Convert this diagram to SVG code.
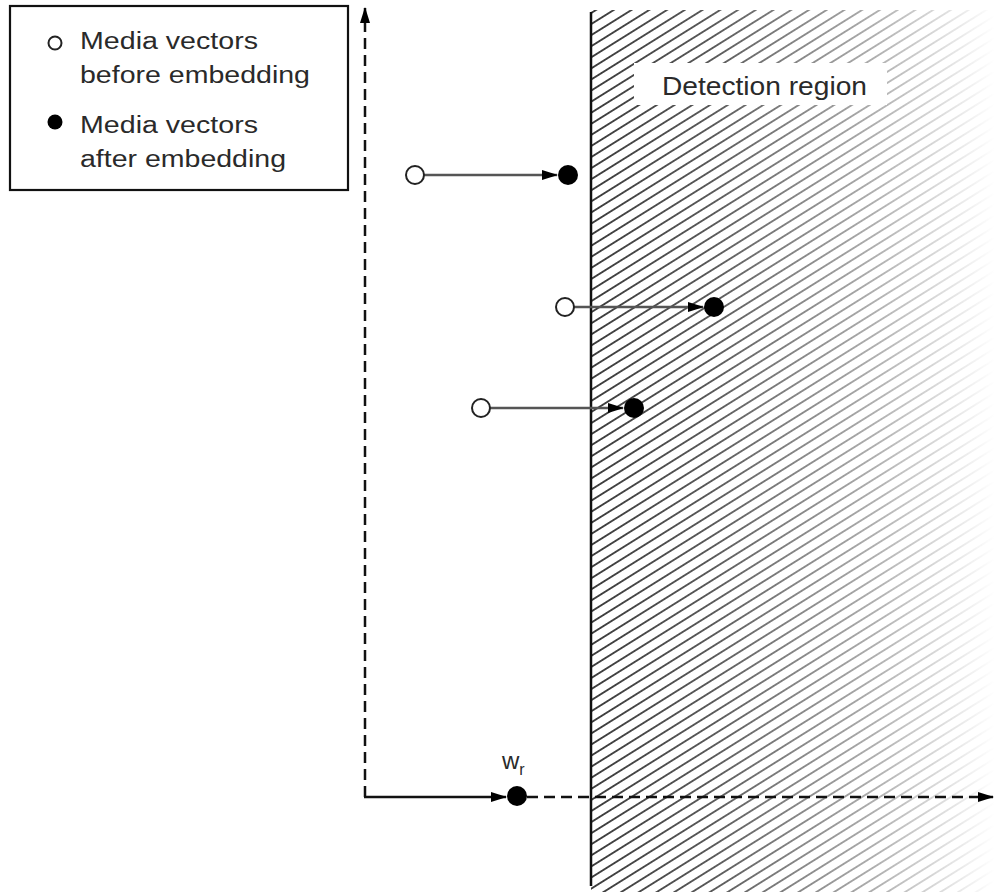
<svg xmlns="http://www.w3.org/2000/svg" width="994" height="892" viewBox="0 0 994 892">
  <defs>
    <style>
      .txt { font-family: "Liberation Sans", Arial, sans-serif; fill: #2a2a2a; }
      .open { fill: #fff; stroke: #222; stroke-width: 2; }
      .full { fill: #000; }
      .vec { stroke: #555; stroke-width: 2.5; fill: none; }
      .axis { stroke: #111; stroke-width: 2.5; fill: none; }
      .dash { stroke-dasharray: 11 6; }
    </style>
    <marker id="arr" markerWidth="16" markerHeight="12" refX="15" refY="6" orient="auto" markerUnits="userSpaceOnUse">
      <path d="M0,1 L16,6 L0,11 Z" fill="#000"/>
    </marker>
    <pattern id="hatch" patternUnits="userSpaceOnUse" width="20" height="9.4" patternTransform="rotate(-32)">
      <line x1="-1" y1="4.7" x2="21" y2="4.7" stroke="#333" stroke-width="1.8"/>
    </pattern>
    <linearGradient id="fadeGrad" x1="591" y1="0" x2="994" y2="0" gradientUnits="userSpaceOnUse">
      <stop offset="0" stop-color="#fff"/>
      <stop offset="0.3" stop-color="#d8d8d8"/>
      <stop offset="0.7" stop-color="#6a6a6a"/>
      <stop offset="0.95" stop-color="#111"/>
      <stop offset="1" stop-color="#000"/>
    </linearGradient>
    <mask id="fade">
      <rect x="591" y="0" width="403" height="892" fill="url(#fadeGrad)"/>
    </mask>
  </defs>
  <rect width="994" height="892" fill="#fff"/>

  <g id="detection-region">
    <rect x="591" y="10" width="403" height="882" fill="url(#hatch)" mask="url(#fade)"/>
    <line x1="591" y1="12" x2="591" y2="886" stroke="#111" stroke-width="2.5"/>
    <rect x="634" y="63" width="253" height="42" fill="#fff"/>
    <text class="txt" x="662" y="95" font-size="26" textLength="205" lengthAdjust="spacingAndGlyphs">Detection region</text>
  </g>

  <g id="legend">
    <rect x="10" y="6" width="338" height="184" fill="#fff" stroke="#111" stroke-width="2.2"/>
    <circle class="open" cx="55" cy="43" r="6.5"/>
    <text class="txt" x="80" y="49" font-size="23" textLength="178" lengthAdjust="spacingAndGlyphs">Media vectors</text>
    <text class="txt" x="80" y="83" font-size="23" textLength="230" lengthAdjust="spacingAndGlyphs">before embedding</text>
    <circle class="full" cx="55" cy="122" r="7.5"/>
    <text class="txt" x="80" y="133" font-size="23" textLength="178" lengthAdjust="spacingAndGlyphs">Media vectors</text>
    <text class="txt" x="80" y="167" font-size="23" textLength="206" lengthAdjust="spacingAndGlyphs">after embedding</text>
  </g>

  <g id="connectors">
    <line class="axis dash" x1="365" y1="797" x2="365" y2="8" marker-end="url(#arr)"/>
    <line class="axis" x1="364" y1="797" x2="506" y2="797" marker-end="url(#arr)"/>
    <line class="axis dash" x1="527" y1="797" x2="993" y2="797" marker-end="url(#arr)"/>
    <line class="vec" x1="424" y1="175" x2="557" y2="175" marker-end="url(#arr)"/>
    <line class="vec" x1="574" y1="307" x2="703" y2="307" marker-end="url(#arr)"/>
    <line class="vec" x1="490" y1="408" x2="623" y2="408" marker-end="url(#arr)"/>
  </g>

  <g id="vector-1">
    <circle class="open" cx="415" cy="175" r="9"/>
    <circle class="full" cx="568" cy="175" r="10"/>
  </g>
  <g id="vector-2">
    <circle class="open" cx="565" cy="307" r="9"/>
    <circle class="full" cx="714" cy="307" r="10"/>
  </g>
  <g id="vector-3">
    <circle class="open" cx="481" cy="408" r="9"/>
    <circle class="full" cx="634" cy="408" r="10"/>
  </g>

  <g id="wr">
    <circle class="full" cx="517" cy="796" r="10"/>
    <text class="txt" x="502" y="769" font-size="24">w<tspan font-size="16" dy="6">r</tspan></text>
  </g>
</svg>
